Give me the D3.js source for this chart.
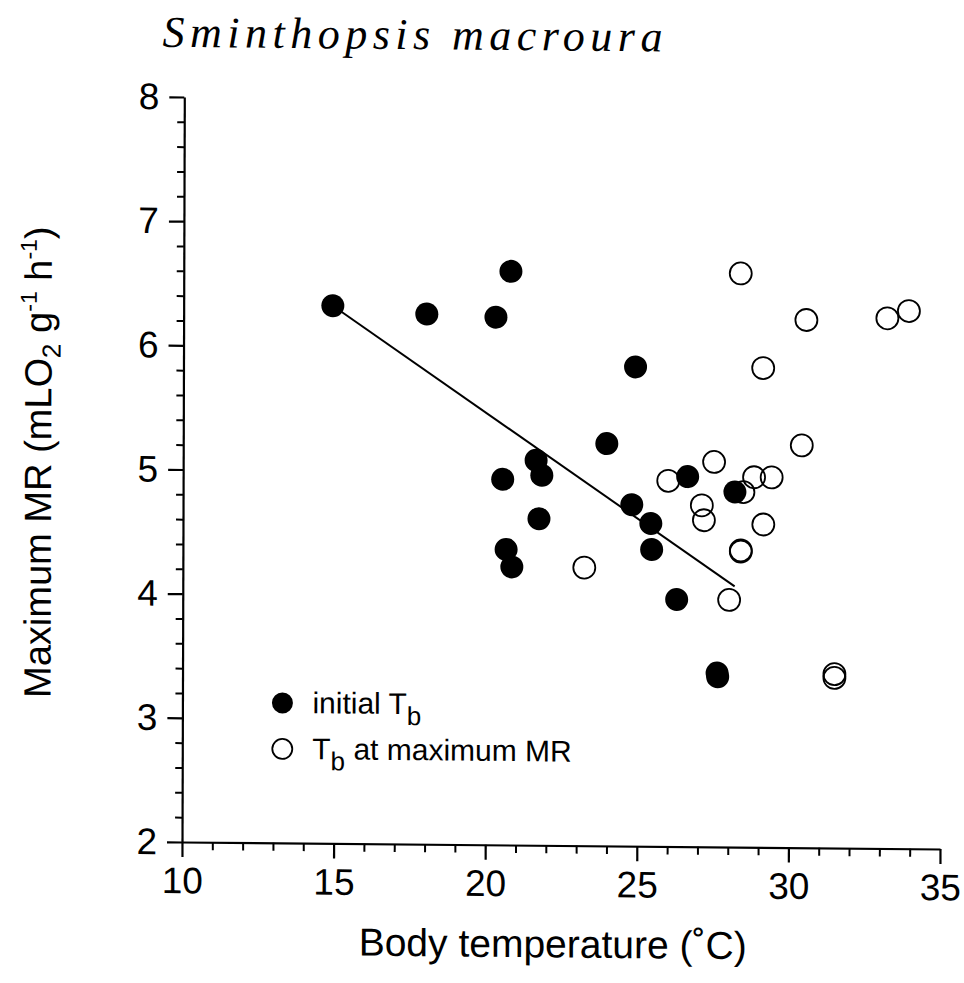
<!DOCTYPE html>
<html>
<head>
<meta charset="utf-8">
<script src="https://cdn.jsdelivr.net/npm/d3@7"></script>
<style>
  html, body { margin: 0; padding: 0; background: #fff; }
  svg { display: block; }
  text { fill: #000; }
</style>
</head>
<body>
<svg id="chart" width="964" height="983"></svg>
<script>
// Maximum metabolic rate of Sminthopsis macroura against body temperature.
// One entry per animal: the same MR is plotted at the initial Tb and at the Tb reached at maximum MR.
const maxMR     = [6.33, 6.27, 6.25, 6.62, 5.86, 5.24, 5.10, 4.98, 4.98, 4.945, 4.86, 4.75, 4.63, 4.60, 4.39, 4.38, 4.24, 3.99, 3.40, 3.37];
const tbInitial = [14.92, 18.02, 20.30, 20.79, 24.91, 23.97, 21.64, 21.83, 26.64, 20.54, 28.20, 24.80, 21.74, 25.43, 25.46, 20.66, 20.85, 26.29, 27.63, 27.65];
const tbAtMax   = [33.92, 33.21, 30.54, 28.37, 29.12, 30.40, 27.51, 29.41, 28.83, 26.00, 28.48, 27.11, 27.18, 29.14, 28.40, 28.40, 23.24, 28.02, 31.50, 31.50];

// Regression of maximum MR on initial Tb (end points of the fitted segment)
const fitTb = [14.92, 28.20];
const fitMR = [6.33, 4.10];

const xMajorTicks = [10, 15, 20, 25, 30, 35];
const yMajorTicks = [2, 3, 4, 5, 6, 7, 8];

const svg = d3.select("#chart");
const sans = "'Liberation Sans', Arial, Helvetica, sans-serif";

const x = d3.scaleLinear().domain([10, 35]).range([182, 940]);
const y = d3.scaleLinear().domain([2, 8]).range([842, 97]);

// Whole sheet carries a slight skew
const sheet = svg.append("g")
  .attr("transform", "translate(182,842) matrix(1,0.0092,-0.0031,1,0,0) translate(-182,-842)");

// Title
sheet.append("text")
  .attr("x", 160).attr("y", 47)
  .attr("font-family", "'Liberation Serif', 'DejaVu Serif', serif")
  .attr("font-style", "italic")
  .attr("font-size", 44)
  .attr("textLength", 500)
  .attr("lengthAdjust", "spacing")
  .text("Sminthopsis macroura");

// Minor ticks
const xMinor = d3.range(10, 35.001, 1).filter(v => !xMajorTicks.includes(v));
const yMinor = d3.range(2, 8.001, 0.2).map(v => +v.toFixed(1)).filter(v => !yMajorTicks.includes(v));

sheet.append("g")
  .attr("transform", `translate(0,${y(2)})`)
  .call(d3.axisBottom(x).tickValues(xMinor).tickSize(8).tickSizeOuter(0).tickFormat(""))
  .call(g => g.select(".domain").remove())
  .selectAll("line").attr("stroke", "#000").attr("stroke-width", 2);

sheet.append("g")
  .attr("transform", `translate(${x(10)},0)`)
  .call(d3.axisLeft(y).tickValues(yMinor).tickSize(7).tickSizeOuter(0).tickFormat(""))
  .call(g => g.select(".domain").remove())
  .selectAll("line").attr("stroke", "#000").attr("stroke-width", 2);

// Major axes
const xAxis = sheet.append("g")
  .attr("transform", `translate(0,${y(2)})`)
  .call(d3.axisBottom(x).tickValues(xMajorTicks).tickSize(15).tickSizeOuter(0).tickPadding(10).tickFormat(d3.format("d")));
const yAxis = sheet.append("g")
  .attr("transform", `translate(${x(10)},0)`)
  .call(d3.axisLeft(y).tickValues(yMajorTicks).tickSize(15).tickSizeOuter(0).tickPadding(10).tickFormat(d3.format("d")));

[xAxis, yAxis].forEach(a => {
  a.select(".domain").attr("stroke", "#000").attr("stroke-width", 2.2);
  a.selectAll(".tick line").attr("stroke", "#000").attr("stroke-width", 2.2);
  a.selectAll(".tick text").attr("font-family", sans).attr("font-size", 37).attr("fill", "#000");
});

// Axis titles
sheet.append("text")
  .attr("x", 553).attr("y", 954)
  .attr("text-anchor", "middle")
  .attr("font-family", sans).attr("font-size", 39)
  .text("Body temperature (\u02DAC)");

const yTitle = sheet.append("text")
  .attr("transform", `translate(50,${(97 + 842) / 2 - 6}) rotate(-90)`)
  .attr("text-anchor", "middle")
  .attr("font-family", sans).attr("font-size", 38);
yTitle.append("tspan").text("Maximum MR (mLO");
yTitle.append("tspan").attr("font-size", 26).attr("dy", 9).text("2");
yTitle.append("tspan").attr("dy", -9).text(" g");
yTitle.append("tspan").attr("font-size", 23).attr("dy", -15).text("-1");
yTitle.append("tspan").attr("dy", 15).text(" h");
yTitle.append("tspan").attr("font-size", 23).attr("dy", -15).text("-1");
yTitle.append("tspan").attr("dy", 15).text(")");

// Regression line
sheet.append("line")
  .attr("x1", x(fitTb[0])).attr("y1", y(fitMR[0]))
  .attr("x2", x(fitTb[1])).attr("y2", y(fitMR[1]))
  .attr("stroke", "#000").attr("stroke-width", 2);

// Tb at maximum MR (open circles)
sheet.append("g").selectAll("circle")
  .data(d3.range(maxMR.length))
  .join("circle")
  .attr("cx", i => x(tbAtMax[i]))
  .attr("cy", i => y(maxMR[i]))
  .attr("r", 11)
  .attr("fill", "none")
  .attr("stroke", "#000")
  .attr("stroke-width", 1.8);

// Initial Tb (filled circles)
sheet.append("g").selectAll("circle")
  .data(d3.range(maxMR.length))
  .join("circle")
  .attr("cx", i => x(tbInitial[i]))
  .attr("cy", i => y(maxMR[i]))
  .attr("r", 11.5)
  .attr("fill", "#000");

// Legend
const legend = sheet.append("g").attr("font-family", sans).attr("font-size", 30);
legend.append("circle").attr("cx", 282).attr("cy", 702).attr("r", 10.5).attr("fill", "#000");
legend.append("circle").attr("cx", 282).attr("cy", 748).attr("r", 10)
  .attr("fill", "none").attr("stroke", "#000").attr("stroke-width", 1.8);

const l1 = legend.append("text").attr("x", 312).attr("y", 712);
l1.append("tspan").text("initial T");
l1.append("tspan").attr("font-size", 26).attr("dy", 11).text("b");

const l2 = legend.append("text").attr("x", 312).attr("y", 758);
l2.append("tspan").text("T");
l2.append("tspan").attr("font-size", 26).attr("dy", 11).text("b");
l2.append("tspan").attr("dy", -11).text(" at maximum MR");
</script>
</body>
</html>
